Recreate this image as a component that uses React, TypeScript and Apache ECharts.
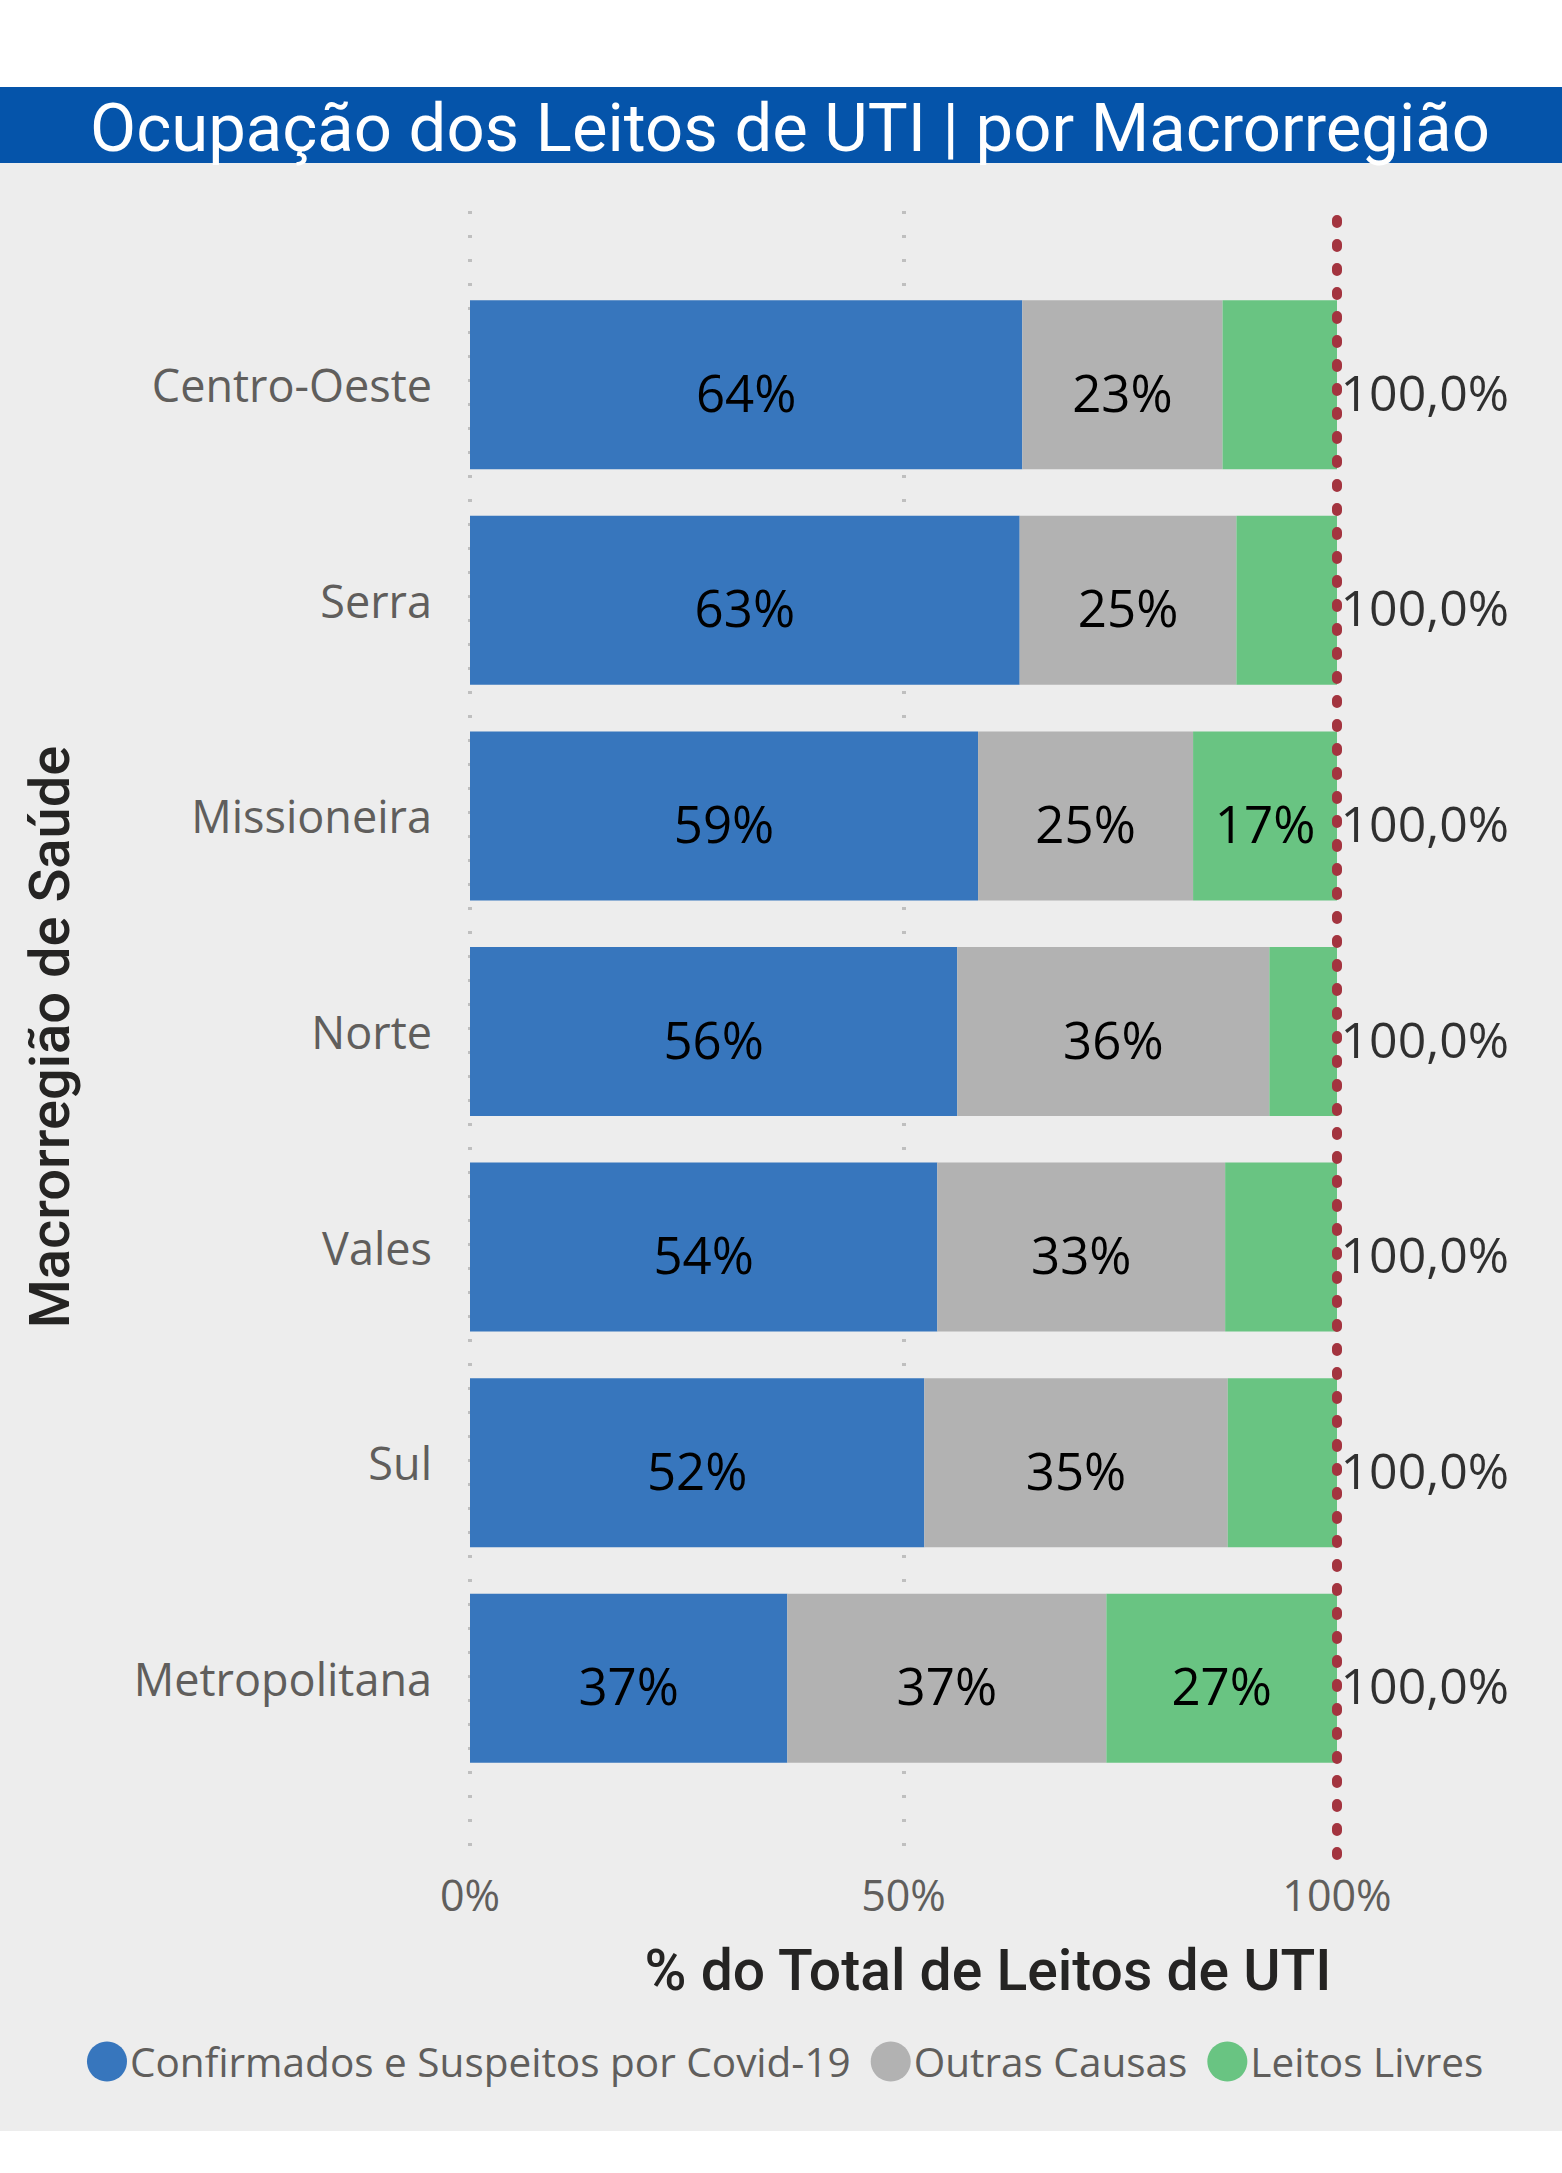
import React, { useEffect, useRef } from "react";
import * as echarts from "echarts";

const titleText = "Ocupação dos Leitos de UTI | por Macrorregião";
const yTitle = "Macrorregião de Saúde";
const xTitle = "% do Total de Leitos de UTI";

const categories = ["Centro-Oeste", "Serra", "Missioneira", "Norte", "Vales", "Sul", "Metropolitana"];
const confirmados = [63.7, 63.4, 58.6, 56.2, 53.9, 52.4, 36.6];
const outras = [23.1, 25.0, 24.8, 36.0, 33.2, 35.0, 36.8];
const livres = [13.2, 11.6, 16.6, 7.8, 12.9, 12.6, 26.6];
const seriesNames = ["Confirmados e Suspeitos por Covid-19", "Outras Causas", "Leitos Livres"];
const referenceLine = [100, 100];
const xTickValues = [0, 50, 100];

const SEGOE = "'Open Sans', 'Noto Sans', sans-serif";
const DIN = "Roboto, 'DejaVu Sans', sans-serif";

export default function App() {
  const ref = useRef<HTMLDivElement>(null);
  useEffect(() => {
    document.body.style.margin = "0";
    const chart = echarts.init(ref.current!, null, { renderer: "svg" });
    const totals = categories.map((c, i) => [confirmados[i] + outras[i] + livres[i], c]);
    const segLabel = {
      show: true,
      position: "inside",
      fontFamily: SEGOE,
      fontSize: 51,
      color: "#000000",
      offset: [0, 7],
      formatter: (p: any) => (p.value >= 15 ? Math.round(p.value) + "%" : ""),
    };
    const colors = ["#3776bd", "#b2b2b2", "#69c482"];
    const data = [confirmados, outras, livres];
    chart.setOption({
      animation: false,
      backgroundColor: "transparent",
      legend: {
        data: seriesNames,
        left: 87,
        top: 2041,
        icon: "circle",
        itemWidth: 40,
        itemHeight: 40,
        itemGap: 20,
        padding: 0,
        textStyle: { fontFamily: SEGOE, fontSize: 40.5, color: "#605e5c", padding: [0, 0, 0, -2] },
      },
      grid: [
        { left: 470, width: 867, top: 277, height: 1509 },
        { left: 470, width: 867, top: 211, height: 1644 },
      ],
      xAxis: [
        { gridIndex: 0, type: "value", min: 0, max: 100, show: false },
        {
          gridIndex: 1,
          type: "value",
          min: 0,
          max: 100,
          interval: 50,
          axisLine: { show: false },
          axisTick: { show: false },
          axisLabel: {
            margin: 18,
            fontFamily: SEGOE,
            fontSize: 43,
            color: "#605e5c",
            formatter: (v: number) => (xTickValues.includes(v) ? v + "%" : ""),
          },
          splitLine: {
            show: true,
            lineStyle: { color: ["#bfbfbf", "#bfbfbf", "transparent"], width: 4, type: [3, 21] },
          },
        },
      ],
      yAxis: [
        {
          gridIndex: 0,
          type: "category",
          data: categories,
          inverse: true,
          axisLine: { show: false },
          axisTick: { show: false },
          splitLine: { show: false },
          axisLabel: { margin: 38, fontFamily: SEGOE, fontSize: 45, color: "#605e5c" },
        },
        { gridIndex: 1, type: "value", min: 0, max: 1, show: false },
      ],
      series: [
        ...seriesNames.map((name, k) => ({
          name,
          type: "bar",
          stack: "total",
          xAxisIndex: 0,
          yAxisIndex: 0,
          barCategoryGap: "21.6%",
          itemStyle: { color: colors[k] },
          label: segLabel,
          data: data[k],
          z: 2,
        })),
        {
          name: "Total",
          type: "scatter",
          xAxisIndex: 0,
          yAxisIndex: 0,
          symbolSize: 1,
          itemStyle: { color: "transparent" },
          label: {
            show: true,
            position: "right",
            distance: 3,
            fontFamily: SEGOE,
            fontSize: 50,
            color: "#000000",
            offset: [0, 7],
            formatter: (p: any) => p.value[0].toFixed(1).replace(".", ",") + "%",
          },
          data: totals,
          z: 6,
        },
        {
          name: "Referência",
          type: "line",
          xAxisIndex: 1,
          yAxisIndex: 1,
          symbol: "none",
          silent: true,
          lineStyle: { color: "#a3343f", width: 10, type: [3, 21], cap: "round" },
          data: [
            [referenceLine[0], 0],
            [referenceLine[1], 1],
          ],
          z: 5,
        },
      ],
      graphic: [
        {
          type: "text",
          x: 790,
          y: 128,
          style: {
            text: titleText,
            fill: "#ffffff",
            fontFamily: DIN,
            fontSize: 67,
            fontWeight: 400,
            textAlign: "center",
            textVerticalAlign: "middle",
          },
        },
        {
          type: "text",
          x: 50,
          y: 1037,
          rotation: Math.PI / 2,
          style: {
            text: yTitle,
            fill: "#252423",
            fontFamily: DIN,
            fontSize: 56,
            fontWeight: 500,
            textAlign: "center",
            textVerticalAlign: "middle",
          },
        },
        {
          type: "text",
          x: 988,
          y: 1970,
          style: {
            text: xTitle,
            fill: "#252423",
            fontFamily: DIN,
            fontSize: 57,
            fontWeight: 500,
            textAlign: "center",
            textVerticalAlign: "middle",
          },
        },
      ],
    });
    return () => chart.dispose();
  }, []);
  return (
    <div
      style={{
        position: "absolute",
        left: 0,
        top: 0,
        width: 1562,
        height: 2173,
        background:
          "linear-gradient(to bottom, #ffffff 0px, #ffffff 87px, #0554aa 87px, #0554aa 163px, #ededed 163px, #ededed 2131px, #ffffff 2131px)",
      }}
    >
      <div ref={ref} style={{ width: 1562, height: 2173 }} />
    </div>
  );
}
